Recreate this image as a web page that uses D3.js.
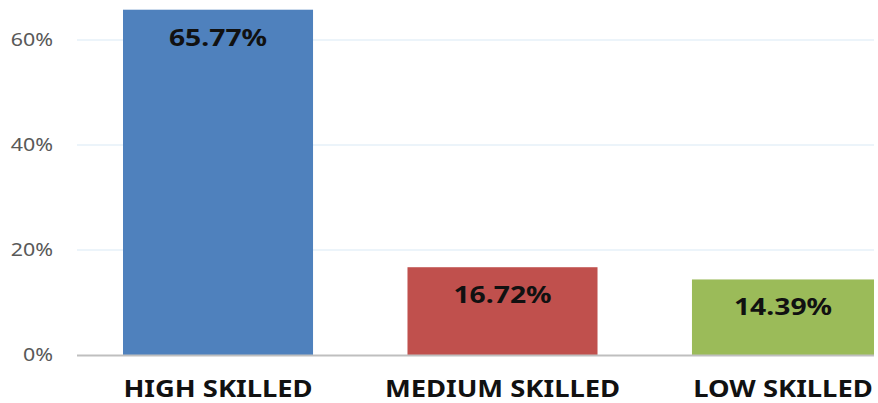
<!DOCTYPE html>
<html>
<head>
<meta charset="utf-8">
<script src="https://cdn.jsdelivr.net/npm/d3@7"></script>
<style>
  body { margin: 0; background: #fff; }
  svg { display: block; font-family: "Noto Sans", "Open Sans", "DejaVu Sans", sans-serif; }
</style>
</head>
<body>
<div id="chart"></div>
<script>
(function () {
    'use strict';

    // data
    var categories = ['HIGH SKILLED', 'MEDIUM SKILLED', 'LOW SKILLED'];
    var shares = [65.77, 16.72, 14.39];
    var barColors = ['#4f81bd', '#c0504d', '#9bbb59'];
    var yTicks = [0, 20, 40, 60];

    var fontFamily = '"Noto Sans", "Open Sans", "DejaVu Sans", sans-serif';
    var width = 878;
    var height = 403;
    // the source image is stretched a little sideways, so text is too
    var stretch = 'scale(1.19,1)';

    var svg = d3.select('#chart').append('svg')
        .attr('width', width)
        .attr('height', height);

    // the source picture is cut off on the right
    svg.append('clipPath')
        .attr('id', 'plotClip')
        .append('rect')
        .attr('x', 0)
        .attr('y', 0)
        .attr('width', 874)
        .attr('height', height);

    var y = d3.scaleLinear()
        .domain([0, 60])
        .range([355, 40]);

    var x = d3.scaleBand()
        .domain(categories)
        .range([123, 882])
        .paddingInner(0.332)
        .paddingOuter(0);

    function labelX(c) {
        return Math.min(x(c) + x.bandwidth() / 2, 783);
    }

    // gridlines
    svg.append('g')
        .selectAll('line')
        .data(yTicks.filter(function (d) { return d > 0; }))
        .enter()
        .append('line')
        .attr('x1', 77)
        .attr('x2', 874)
        .attr('y1', function (d) { return y(d); })
        .attr('y2', function (d) { return y(d); })
        .attr('stroke', '#e6f0f8')
        .attr('stroke-width', 1.5);

    // y axis tick labels
    var yAxis = d3.axisLeft(y)
        .tickValues(yTicks)
        .tickSize(0)
        .tickPadding(0)
        .tickFormat(function (d) { return d + '%'; });

    var yg = svg.append('g')
        .attr('transform', 'translate(53,0)')
        .call(yAxis)
        .attr('font-family', fontFamily);
    yg.select('.domain').remove();
    yg.selectAll('text')
        .attr('x', 0)
        .attr('transform', stretch)
        .attr('fill', '#595959')
        .style('font-size', '18px');

    // bars
    svg.append('g')
        .attr('clip-path', 'url(#plotClip)')
        .selectAll('rect')
        .data(shares)
        .enter()
        .append('rect')
        .attr('x', function (d, i) { return x(categories[i]); })
        .attr('y', function (d) { return y(d); })
        .attr('width', x.bandwidth())
        .attr('height', function (d) { return y(0) - y(d); })
        .attr('fill', function (d, i) { return barColors[i]; });

    // baseline
    svg.append('line')
        .attr('x1', 77)
        .attr('x2', 874)
        .attr('y1', y(0) + 0.5)
        .attr('y2', y(0) + 0.5)
        .attr('stroke', '#bfbfbf')
        .attr('stroke-width', 2);

    // value labels
    svg.append('g')
        .selectAll('text')
        .data(shares)
        .enter()
        .append('text')
        .attr('transform', function (d, i) {
            return 'translate(' + labelX(categories[i]) + ',' + (y(d) + 36) + ') scale(1.23,1)';
        })
        .attr('text-anchor', 'middle')
        .attr('fill', '#111')
        .style('font-size', '23px')
        .style('font-weight', 'bold')
        .text(function (d) { return d.toFixed(2) + '%'; });

    // category labels
    var xAxis = d3.axisBottom(x)
        .tickSize(0)
        .tickPadding(0);

    var xg = svg.append('g')
        .call(xAxis)
        .attr('font-family', fontFamily);
    xg.select('.domain').remove();
    xg.selectAll('.tick')
        .attr('transform', function (d) {
            return 'translate(' + labelX(d) + ',397)';
        });
    xg.selectAll('text')
        .attr('dy', null)
        .attr('y', 0)
        .attr('transform', stretch)
        .attr('fill', '#111')
        .style('font-size', '23px')
        .style('font-weight', 'bold');
})();
</script>
</body>
</html>
